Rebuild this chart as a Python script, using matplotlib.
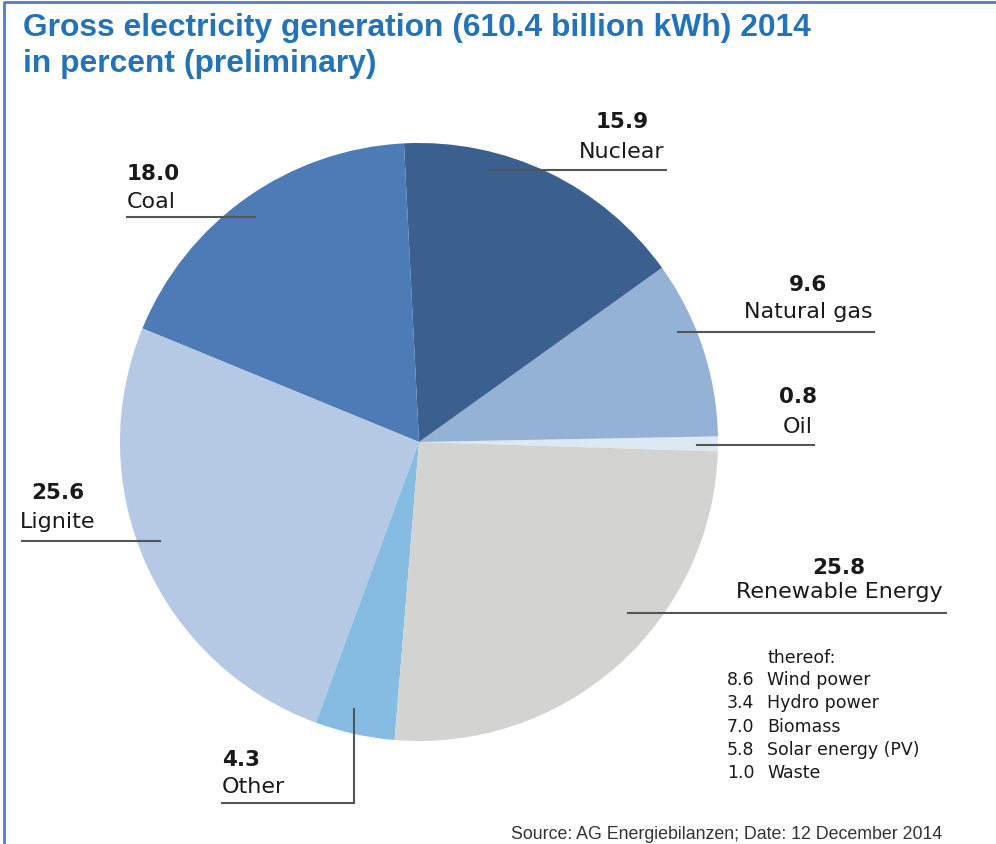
import matplotlib.pyplot as plt

# data (percent of 610.4 billion kWh, 2014, preliminary)
sources = ["Oil", "Natural gas", "Nuclear", "Coal", "Lignite", "Other", "Renewable Energy"]
shares = [0.8, 9.6, 15.9, 18.0, 25.6, 4.3, 25.8]
colors = ["#dce8f2", "#94b1d6", "#3b5f8e", "#4d7bb6", "#b5c9e4", "#86bbe2", "#d3d4d2"]

renew_names = ["Wind power", "Hydro power", "Biomass", "Solar energy (PV)", "Waste"]
renew_values = [8.6, 3.4, 7.0, 5.8, 1.0]

title_lines = ["Gross electricity generation (610.4 billion kWh) 2014",
               "in percent (preliminary)"]
source_note = "Source: AG Energiebilanzen; Date: 12 December 2014"

W, H = 996, 845
fig = plt.figure(figsize=(W / 100, H / 100), dpi=100)
ax = fig.add_axes([0, 0, 1, 1])


def y(v):
    # pixel row (from top) -> data y
    return H - v


# frame: top and left blue lines
ax.plot([4, 4, W], [0, y(3), y(3)], color="#4f7fc0", lw=2, solid_capstyle="butt")

ax.pie(shares, colors=colors, startangle=-1.8, counterclock=True,
       center=(419, y(443)), radius=299, frame=True,
       wedgeprops=dict(linewidth=0))
ax.set_xlim(0, W)
ax.set_ylim(0, H)
ax.set_aspect("equal")
ax.axis("off")

# title, scaled so the first line spans the same width as the original
tfont = "Liberation Sans"
t1 = ax.text(23, y(36), title_lines[0], family=tfont, weight="bold",
             fontsize=22, color="#2373b6", va="baseline")
t2 = ax.text(23, y(72), title_lines[1], family=tfont, weight="bold",
             fontsize=22, color="#2373b6", va="baseline")
src = ax.text(942, y(839), source_note, ha="right", va="baseline",
              family="Liberation Sans", fontsize=11, color="#333333")
fig.canvas.draw()
wpx = t1.get_window_extent().width
for t in (t1, t2):
    t.set_fontsize(22 * 786 / wpx)
src.set_fontsize(11 * 430 / src.get_window_extent().width)

# label blocks: (x, align, number baseline, name baseline, line row, line x0, x1)
layout = {
    "Coal": (127, "left", 180, 208, 218, 127, 255),
    "Nuclear": (622, "center", 128, 158, 171, 490, 666),
    "Natural gas": (808, "center", 291, 318, 333, 678, 874),
    "Oil": (798, "center", 403, 433, 446, 697, 814),
    "Renewable Energy": (839, "center", 574, 598, 614, 628, 946),
    "Lignite": (58, "center", 499, 528, 542, 22, 160),
    "Other": (222, "left", 766, 793, 804, 222, 354),
}
lc = "#555555"
for name, val in zip(sources, shares):
    cx, ha, b1, b2, rl, x0, x1 = layout[name]
    ax.text(cx, y(b1), f"{val:.1f}", ha=ha, va="baseline",
            family="DejaVu Sans", weight="bold", fontsize=15.5, color="#1a1a1a")
    ax.text(cx, y(b2), name, ha=ha, va="baseline",
            family="DejaVu Sans", fontsize=16, color="#1a1a1a")
    ax.plot([x0, x1], [y(rl), y(rl)], color=lc, lw=1.5)
# elbow for Other
ax.plot([354, 354], [y(804), y(710)], color=lc, lw=1.5)

ax.text(767, y(663), "thereof:", family="DejaVu Sans", fontsize=12.5,
        color="#1a1a1a", va="baseline")
for i, (n, v) in enumerate(zip(renew_names, renew_values)):
    r = 685 + i * 23.3
    ax.text(727, y(r), f"{v:.1f}", family="DejaVu Sans", fontsize=12.5,
            color="#1a1a1a", va="baseline")
    ax.text(767, y(r), n, family="DejaVu Sans", fontsize=12.5,
            color="#1a1a1a", va="baseline")

fig.savefig("out.png", dpi=100)
